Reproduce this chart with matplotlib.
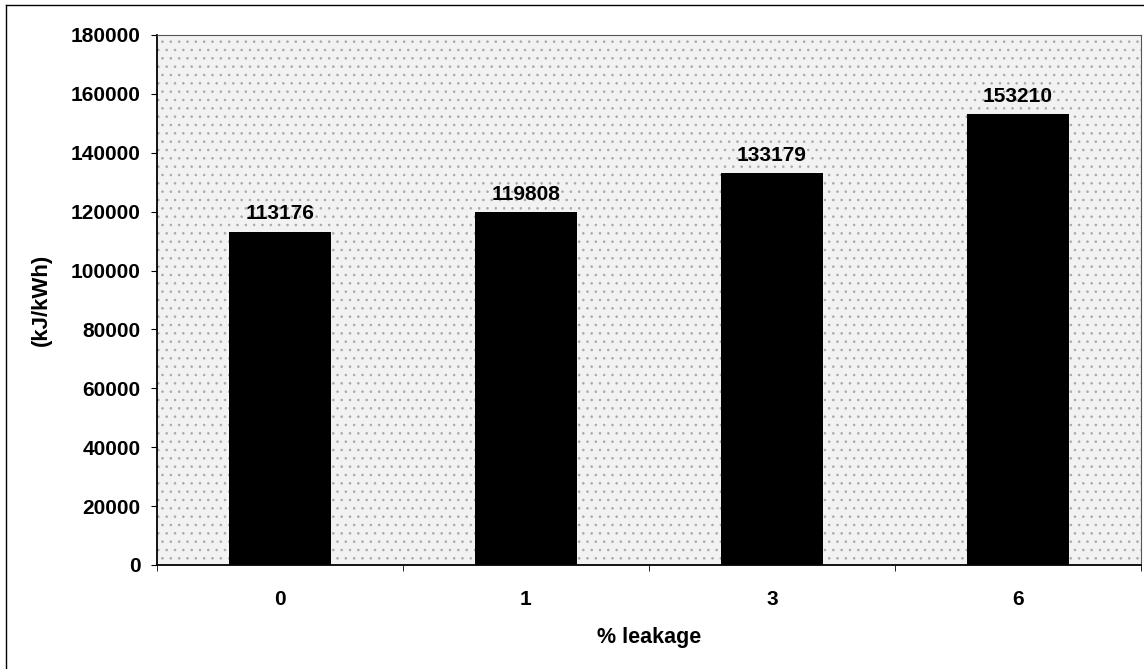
import matplotlib.pyplot as plt
from matplotlib.patches import Rectangle
from matplotlib.lines import Line2D
import numpy as np

# data
categories = ["0", "1", "3", "6"]
values = [113176, 119808, 133179, 153210]
yticks = list(range(0, 180001, 20000))

plt.rcParams['font.family'] = ['Liberation Sans', 'DejaVu Sans']
plt.rcParams['hatch.linewidth'] = 0.6

fig = plt.figure(figsize=(11.44, 6.69), dpi=100)
ax = fig.add_axes([0.1372, 0.1555, 0.8602, 0.7922])

# speckled plot-area background, roughly like the scanned fill
ax.set_facecolor('#f2f2f2')
ax.add_patch(Rectangle((0, 0), 1, 1, transform=ax.transAxes, facecolor='none',
                       edgecolor='#a8a8a8', hatch='..', linewidth=0, zorder=0))

x = np.arange(len(categories))
ax.bar(x, values, width=0.415, color='black', zorder=3)
for xi, v in zip(x, values):
    ax.annotate(str(v), (xi, v), xytext=(0, 6), textcoords='offset points',
                ha='center', va='bottom', fontsize=15, fontweight='bold')

ax.set_xlim(-0.5, len(categories) - 0.5)
ax.set_ylim(0, 180000)
ax.set_yticks(yticks)
ax.set_yticklabels([str(t) for t in yticks], fontsize=15, fontweight='bold')

# category labels centred, tick marks on the boundaries (Excel style)
ax.set_xticks(x)
ax.set_xticklabels(categories, fontsize=15, fontweight='bold')
ax.tick_params(axis='x', length=0, pad=18)
ax.set_xticks(np.arange(len(categories) + 1) - 0.5, minor=True)
ax.tick_params(axis='x', which='minor', length=4, direction='out')
ax.tick_params(axis='y', length=4, direction='out', pad=8)

ax.set_xlabel('% leakage', fontsize=15.5, fontweight='bold', labelpad=13)
ax.set_ylabel('(kJ/kWh)', fontsize=16, fontweight='bold', labelpad=13)

for s in ['top', 'right']:
    ax.spines[s].set_color('#555555')
for s in ['left', 'bottom']:
    ax.spines[s].set_color('black')
    ax.spines[s].set_linewidth(1.3)

# outer chart frame (left and top edges visible in the crop)
fig.add_artist(Line2D([6 / 1144, 6 / 1144], [0, 1 - 5 / 669], transform=fig.transFigure,
                      color='black', linewidth=1))
fig.add_artist(Line2D([6 / 1144, 1], [1 - 5 / 669, 1 - 5 / 669], transform=fig.transFigure,
                      color='black', linewidth=1))

fig.savefig('out.png', dpi=100)
